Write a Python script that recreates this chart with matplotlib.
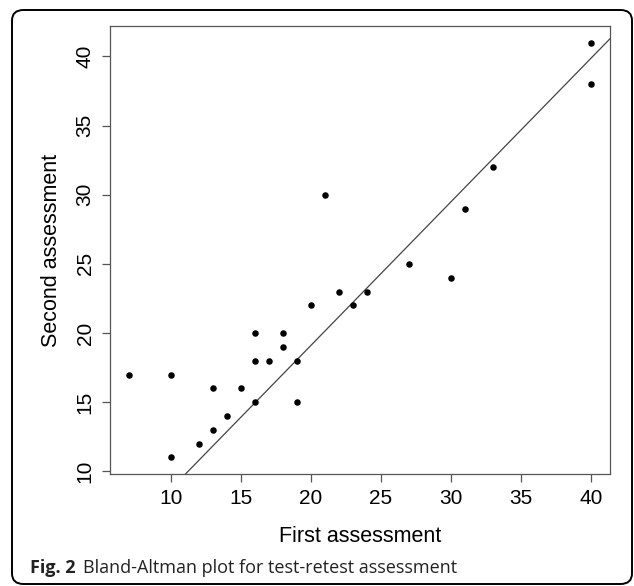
import matplotlib.pyplot as plt
from matplotlib.patches import FancyBboxPatch
import numpy as np

# data
first = [7, 10, 10, 12, 13, 13, 14, 15, 16, 16, 16, 17, 18, 18, 19, 19,
         20, 21, 22, 23, 24, 27, 30, 31, 33, 40, 40]
second = [17, 17, 11, 12, 13, 16, 14, 16, 15, 18, 20, 18, 19, 20, 18, 15,
          22, 30, 23, 22, 23, 25, 24, 29, 32, 41, 38]
line_intercept = -1.7
line_slope = 1.04
xticks = [10, 15, 20, 25, 30, 35, 40]
yticks = [10, 15, 20, 25, 30, 35, 40]

plt.rcParams['font.family'] = ['Liberation Sans', 'DejaVu Sans']

fig = plt.figure(figsize=(6.34, 5.86), dpi=100)
ax = fig.add_axes([0.1735, 0.191, 0.962 - 0.1735, 0.9556 - 0.191])

ax.scatter(first, second, s=22, color='black', linewidths=0, zorder=3)
ax.axline((0, line_intercept), slope=line_slope, color='#444444', lw=0.9)

# R style axis range: data range padded by 4 %
xr = max(first) - min(first)
yr = max(second) - min(second)
ax.set_xlim(min(first) - 0.04 * xr, max(first) + 0.04 * xr)
ax.set_ylim(min(second) - 0.04 * yr, max(second) + 0.04 * yr)

ax.set_xticks(xticks)
ax.set_yticks(yticks)
ax.set_yticklabels([str(t) for t in yticks], rotation=90, va='center')
ax.tick_params(direction='out', length=6, width=0.9, color='#555555',
               labelsize=15, pad=5)
for sp in ax.spines.values():
    sp.set_color('#555555')
    sp.set_linewidth(0.9)

ax.set_xlabel('First assessment', fontsize=15.5, labelpad=13)
ax.set_ylabel('Second assessment', fontsize=15.5, labelpad=10)

# rounded frame round the figure
frame = FancyBboxPatch((12 / 634, 2 / 586), (632 - 12) / 634, (576 - 2) / 586,
                       boxstyle='round,pad=0,rounding_size=0.018',
                       transform=fig.transFigure, fill=False,
                       edgecolor='black', lw=1.4, clip_on=False)
fig.patches.append(frame)

# caption
fig.text(30 / 634, 1 - 568 / 586, 'Fig. 2', fontsize=13, fontweight='bold',
         family=['Open Sans', 'DejaVu Sans'], va='center', ha='left',
         color='#222222')
fig.text(83 / 634, 1 - 568 / 586, 'Bland-Altman plot for test-retest assessment',
         fontsize=13, family=['Open Sans', 'DejaVu Sans'], va='center',
         ha='left', color='#222222')

fig.savefig('out.png', dpi=100)
